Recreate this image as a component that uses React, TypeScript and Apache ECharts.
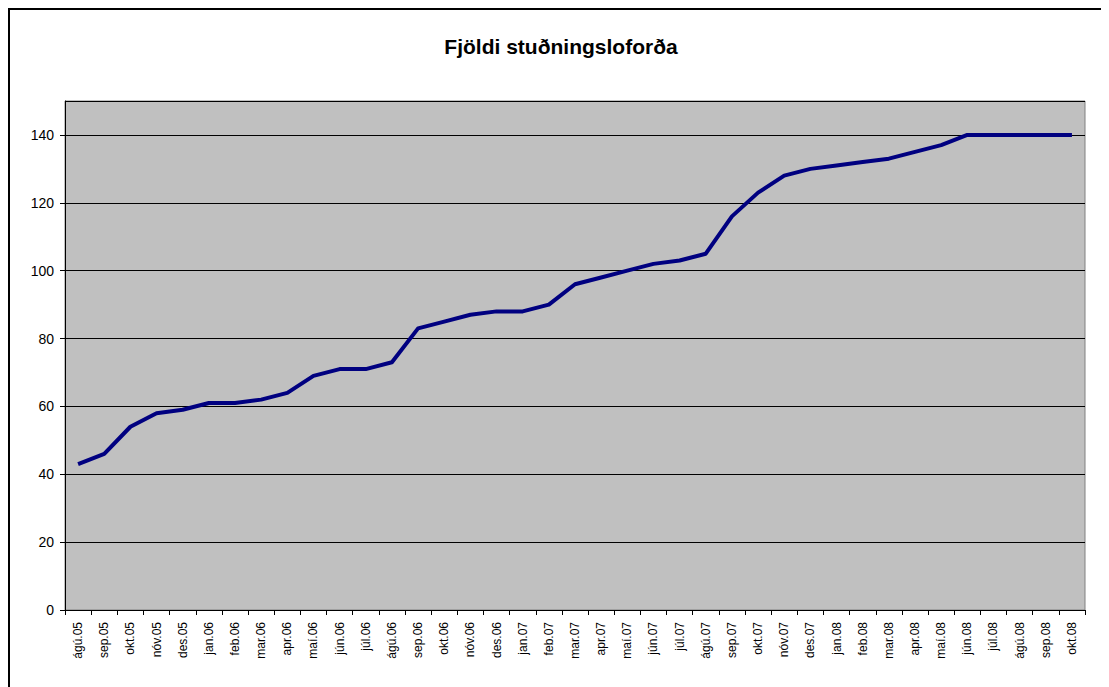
import React, { useEffect, useRef } from "react";
import * as echarts from "echarts";

const titleText = "Fjöldi stuðningsloforða";

const categories = [
  "ágú.05", "sep.05", "okt.05", "nóv.05", "des.05",
  "jan.06", "feb.06", "mar.06", "apr.06", "maí.06", "jún.06", "júl.06", "ágú.06", "sep.06", "okt.06", "nóv.06", "des.06",
  "jan.07", "feb.07", "mar.07", "apr.07", "maí.07", "jún.07", "júl.07", "ágú.07", "sep.07", "okt.07", "nóv.07", "des.07",
  "jan.08", "feb.08", "mar.08", "apr.08", "maí.08", "jún.08", "júl.08", "ágú.08", "sep.08", "okt.08",
];

const pledges = [
  43, 46, 54, 58, 59,
  61, 61, 62, 64, 69, 71, 71, 73, 83, 85, 87, 88,
  88, 90, 96, 98, 100, 102, 103, 105, 116, 123, 128, 130,
  131, 132, 133, 135, 137, 140, 140, 140, 140, 140,
];

const yMin = 0;
const yMax = 150;
const yInterval = 20;

const W = 1101;
const H = 679;
const FONT = "'Liberation Sans', Arial, sans-serif";

export default function App() {
  const ref = useRef<HTMLDivElement>(null);

  useEffect(() => {
    document.body.style.overflow = "hidden";
    if (!ref.current) return;
    const chart = echarts.init(ref.current, undefined, { renderer: "svg" });
    chart.setOption({
      animation: false,
      backgroundColor: "#ffffff",
      textStyle: { fontFamily: FONT },
      grid: {
        left: 57,
        right: 24,
        top: 93,
        bottom: 77,
        show: true,
        backgroundColor: "#C0C0C0",
        borderColor: "#808080",
        borderWidth: 1,
        outerBoundsMode: "none",
      },
      xAxis: {
        type: "category",
        data: categories,
        boundaryGap: true,
        axisLine: { show: true, lineStyle: { color: "#000000", width: 1 } },
        axisTick: { show: true, alignWithLabel: false, length: 5, inside: false, lineStyle: { color: "#000000" }, interval: 0 },
        axisLabel: {
          interval: 0,
          rotate: 90,
          margin: 12,
          fontSize: 12,
          color: "#000000",
          fontFamily: FONT,
        },
        splitLine: { show: false },
      },
      yAxis: {
        type: "value",
        min: yMin,
        max: yMax,
        interval: yInterval,
        axisLine: { show: true, lineStyle: { color: "#000000", width: 1 } },
        axisTick: { show: true, length: 5, lineStyle: { color: "#000000" } },
        axisLabel: {
          margin: 11,
          fontSize: 14,
          color: "#000000",
          fontFamily: FONT,
          showMaxLabel: false,
        },
        splitLine: { show: true, lineStyle: { color: "#000000", width: 1 } },
      },
      series: [
        {
          type: "line",
          data: pledges,
          symbol: "none",
          lineStyle: { color: "#000080", width: 4, join: "round" },
          itemStyle: { color: "#000080" },
        },
      ],
      graphic: [
        {
          type: "text",
          x: 553,
          y: 38.5,
          style: {
            text: titleText,
            fontFamily: FONT,
            fontSize: 21,
            fontWeight: "bold",
            fill: "#000000",
            textAlign: "center",
            textVerticalAlign: "middle",
          },
        },
        {
          type: "line",
          shape: { x1: 0, y1: 1, x2: W, y2: 1 },
          style: { stroke: "#000000", lineWidth: 2 },
        },
        {
          type: "line",
          shape: { x1: 1, y1: 0, x2: 1, y2: H },
          style: { stroke: "#000000", lineWidth: 2 },
        },
      ],
    });
    return () => chart.dispose();
  }, []);

  return <div ref={ref} style={{ width: W, height: H }} />;
}
